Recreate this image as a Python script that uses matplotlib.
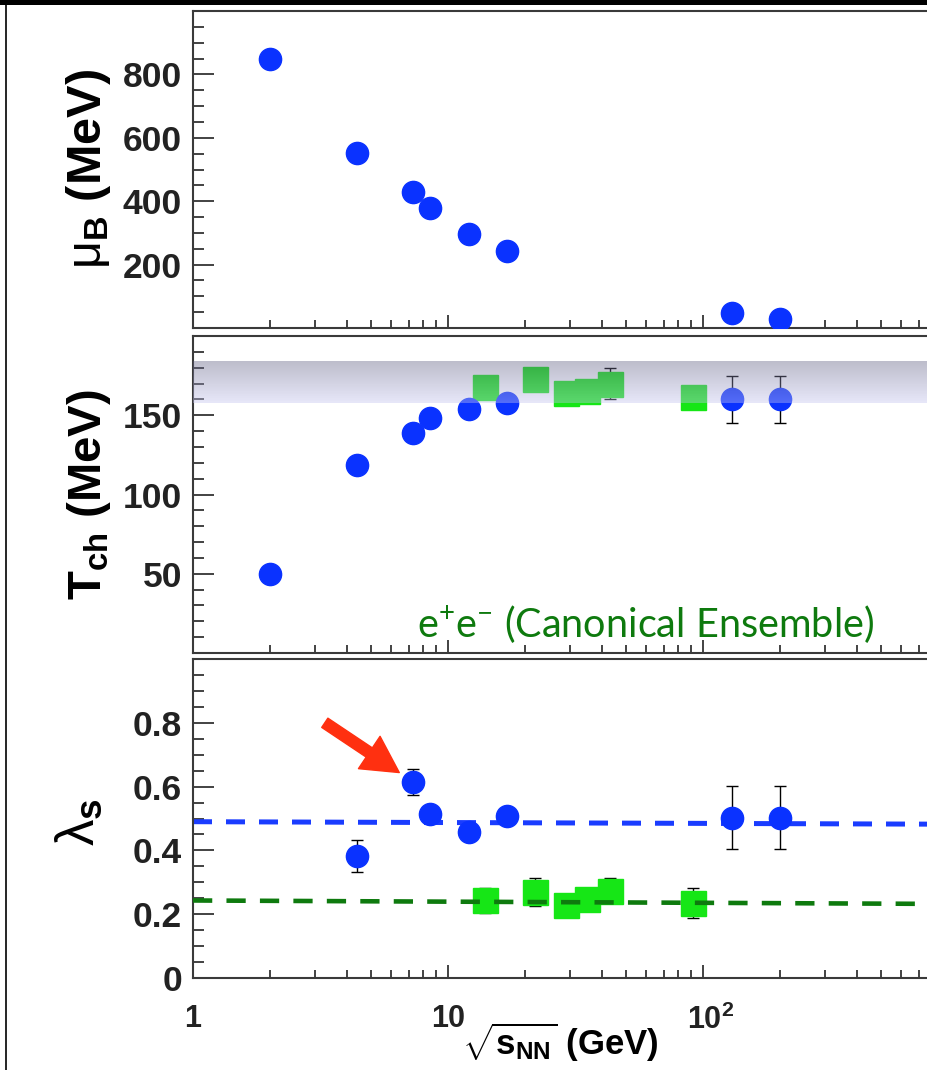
import numpy as np
import matplotlib.pyplot as plt
from matplotlib.ticker import MultipleLocator, FixedLocator, LogLocator, NullFormatter
from matplotlib.lines import Line2D
from matplotlib.patches import Rectangle
from matplotlib.transforms import ScaledTranslation

plt.rcParams['font.family'] = ['Liberation Sans', 'DejaVu Sans']
plt.rcParams['mathtext.fontset'] = 'custom'
plt.rcParams['mathtext.rm'] = 'Liberation Sans:weight=normal'
plt.rcParams['mathtext.bf'] = 'Liberation Sans:weight=bold'
plt.rcParams['mathtext.it'] = 'Liberation Sans:italic'
plt.rcParams['mathtext.sf'] = 'Liberation Sans:weight=normal'

# heavy-ion points (blue)
sqrt_s_aa = [2.0, 4.4, 7.3, 8.5, 12.1, 17.0, 130, 200]
mu_b = [848, 553, 430, 380, 295, 244, 48, 28]
t_ch_aa = [50, 118.6, 139, 148, 153.7, 157.8, 160, 160]
t_ch_aa_err = [1, 1, 1, 1, 1, 1, 15, 15]

sqrt_s_lam = [4.4, 7.3, 8.5, 12.1, 17.0, 130, 200]
lam_aa = [0.383, 0.615, 0.514, 0.458, 0.509, 0.503, 0.503]
lam_aa_err = [0.05, 0.04, 0.02, 0.02, 0.02, 0.1, 0.1]

# e+e- points (green)
sqrt_s_ee = [14, 22, 29, 35, 43, 91]
t_ch_ee = [168, 173, 164, 165, 170, 161.4]
t_ch_ee_err = [2, 2, 2, 2, 10, 2]
lam_ee = [0.243, 0.269, 0.230, 0.249, 0.274, 0.236]
lam_ee_err = [0.04, 0.043, 0.02, 0.02, 0.04, 0.047]

# fitted levels
fit_x = [1, 1000]
lam_fit_aa = [0.490, 0.482]
lam_fit_ee = [0.243, 0.232]

# band on T_ch
band_t = [157.5, 184]

blue = '#0a32ff'
green = '#16e616'
dkgreen = '#0e7a0e'

W, H = 927, 1070
fig = plt.figure(figsize=(W / 100, H / 100), dpi=100)


def px_axes(top, bottom):
    return fig.add_axes([193 / W, 1 - bottom / H, 765 / W, (bottom - top) / H])


ax_mu = px_axes(11, 328)
ax_t = px_axes(336, 653)
ax_l = px_axes(659, 978)

for ax in [ax_mu, ax_t, ax_l]:
    ax.set_xscale('log')
    ax.set_xlim(1, 1000)
    for s in ax.spines.values():
        s.set_color('#3a3a3a')
        s.set_linewidth(1.5)
    ax.tick_params(which='both', direction='in', top=False, right=False, colors='#222222')
    ax.tick_params(axis='y', which='major', length=15, width=1.2, pad=8, labelsize=25.5)
    ax.tick_params(axis='y', which='minor', length=8, width=1.2)
    ax.tick_params(axis='x', which='major', length=9.5, width=1.2, pad=19, labelsize=22)
    ax.tick_params(axis='x', which='minor', length=5.5, width=1.2)
    ax.xaxis.set_major_locator(FixedLocator([1, 10, 100]))
    ax.xaxis.set_minor_locator(LogLocator(base=10, subs=np.arange(2, 10)))
    ax.xaxis.set_minor_formatter(NullFormatter())
    ax.yaxis.set_label_coords(-0.105, 0.5)

# top: mu_B
ax_mu.plot(sqrt_s_aa, mu_b, 'o', ms=16, color=blue, zorder=5)
ax_mu.set_ylim(0, 1000)
ax_mu.set_yticks([200, 400, 600, 800])
ax_mu.yaxis.set_minor_locator(MultipleLocator(50))
ax_mu.tick_params(axis='x', labelbottom=False)
ax_mu.set_ylabel(r'$\mathrm{\mu}_{\mathbf{B}}\ \mathbf{(MeV)}$', fontsize=35)

# middle: T_ch
ax_t.errorbar(sqrt_s_aa, t_ch_aa, yerr=t_ch_aa_err, fmt='o', ms=16, color=blue,
              ecolor='black', elinewidth=1, capsize=4, capthick=1, zorder=5)
ax_t.errorbar(sqrt_s_ee, t_ch_ee, yerr=t_ch_ee_err, fmt='s', ms=18, color=green,
              ecolor='black', elinewidth=1, capsize=4, capthick=1, zorder=4)
n = 60
edges = np.linspace(band_t[0], band_t[1], n + 1)
c_top = np.array([90, 90, 125]) / 255
c_bot = np.array([197, 197, 242]) / 255
for i in range(n):
    f = (i + 0.5) / n
    ax_t.axhspan(edges[i], edges[i + 1], color=c_bot * (1 - f) + c_top * f,
                 alpha=0.4, lw=0, antialiased=False, zorder=10)
ax_t.set_ylim(0, 200)
ax_t.set_yticks([50, 100, 150])
ax_t.yaxis.set_minor_locator(MultipleLocator(10))
ax_t.tick_params(axis='x', labelbottom=False)
ax_t.set_ylabel(r'$\mathbf{T}_{\mathbf{ch}}\ \mathbf{(MeV)}$', fontsize=34)
ax_t.text(0.293, 0.049, r'e$^{\mathregular{+}}$e$^{\mathregular{-}}$ (Canonical Ensemble)',
          transform=ax_t.transAxes, family='Lato', fontsize=28.5,
          color=dkgreen, va='baseline', ha='left', zorder=11)

# bottom: lambda_s
ax_l.plot(fit_x, lam_fit_aa, color='#1a3cff', lw=3.6, dashes=(3.8, 2.8), zorder=2)
ax_l.errorbar(sqrt_s_lam, lam_aa, yerr=lam_aa_err, fmt='o', ms=16, color=blue,
              ecolor='black', elinewidth=1, capsize=4, capthick=1, zorder=5)
ax_l.errorbar(sqrt_s_ee, lam_ee, yerr=lam_ee_err, fmt='s', ms=18, color=green,
              ecolor='black', elinewidth=1, capsize=4, capthick=1, zorder=3)
ax_l.plot(fit_x, lam_fit_ee, color=dkgreen, lw=3.3, dashes=(4.2, 3.1), zorder=4)
ax_l.annotate('', xy=(sqrt_s_lam[1], lam_aa[1]), xytext=(-63.6, 42.5), textcoords='offset points',
              arrowprops=dict(arrowstyle='simple,head_length=1.3,head_width=1.4,tail_width=0.4',
                              mutation_scale=20, color='#ff3010', shrinkA=0, shrinkB=12),
              zorder=6)
ax_l.set_ylim(0, 1)
ax_l.set_yticks([0, 0.2, 0.4, 0.6, 0.8])
ax_l.set_yticklabels(['0', '0.2', '0.4', '0.6', '0.8'])
ax_l.yaxis.set_minor_locator(MultipleLocator(0.05))
ax_l.set_xticks([1, 10, 100])
ax_l.set_xticklabels(['1', '10', r'10$^{\mathbf{2}}$'])
lab = ax_l.get_xticklabels()[2]
lab.set_transform(lab.get_transform() + ScaledTranslation(0.08, 0, fig.dpi_scale_trans))
ax_l.set_ylabel(r'$\mathrm{\lambda}_{\mathbf{s}}$', fontsize=38)
ax_l.yaxis.set_label_coords(-0.115, 0.49)
ax_l.set_xlabel(r'$\sqrt{\mathbf{s}_{\mathbf{NN}}}\ \mathbf{(GeV)}$', fontsize=25)
ax_l.xaxis.set_label_coords(0.48, -0.135)

for ax in [ax_mu, ax_t, ax_l]:
    for lbl in ax.get_xticklabels() + ax.get_yticklabels():
        lbl.set_fontweight('bold')

# black frame remnants at top and left
fig.add_artist(Rectangle((0, 1 - 4.5 / H), 1, 4.5 / H, transform=fig.transFigure,
                         color='black', lw=0))
fig.add_artist(Line2D([5.7 / W, 5.7 / W], [0, 1], transform=fig.transFigure,
                      color='black', lw=1.2))

fig.savefig('out.png', dpi=100)
